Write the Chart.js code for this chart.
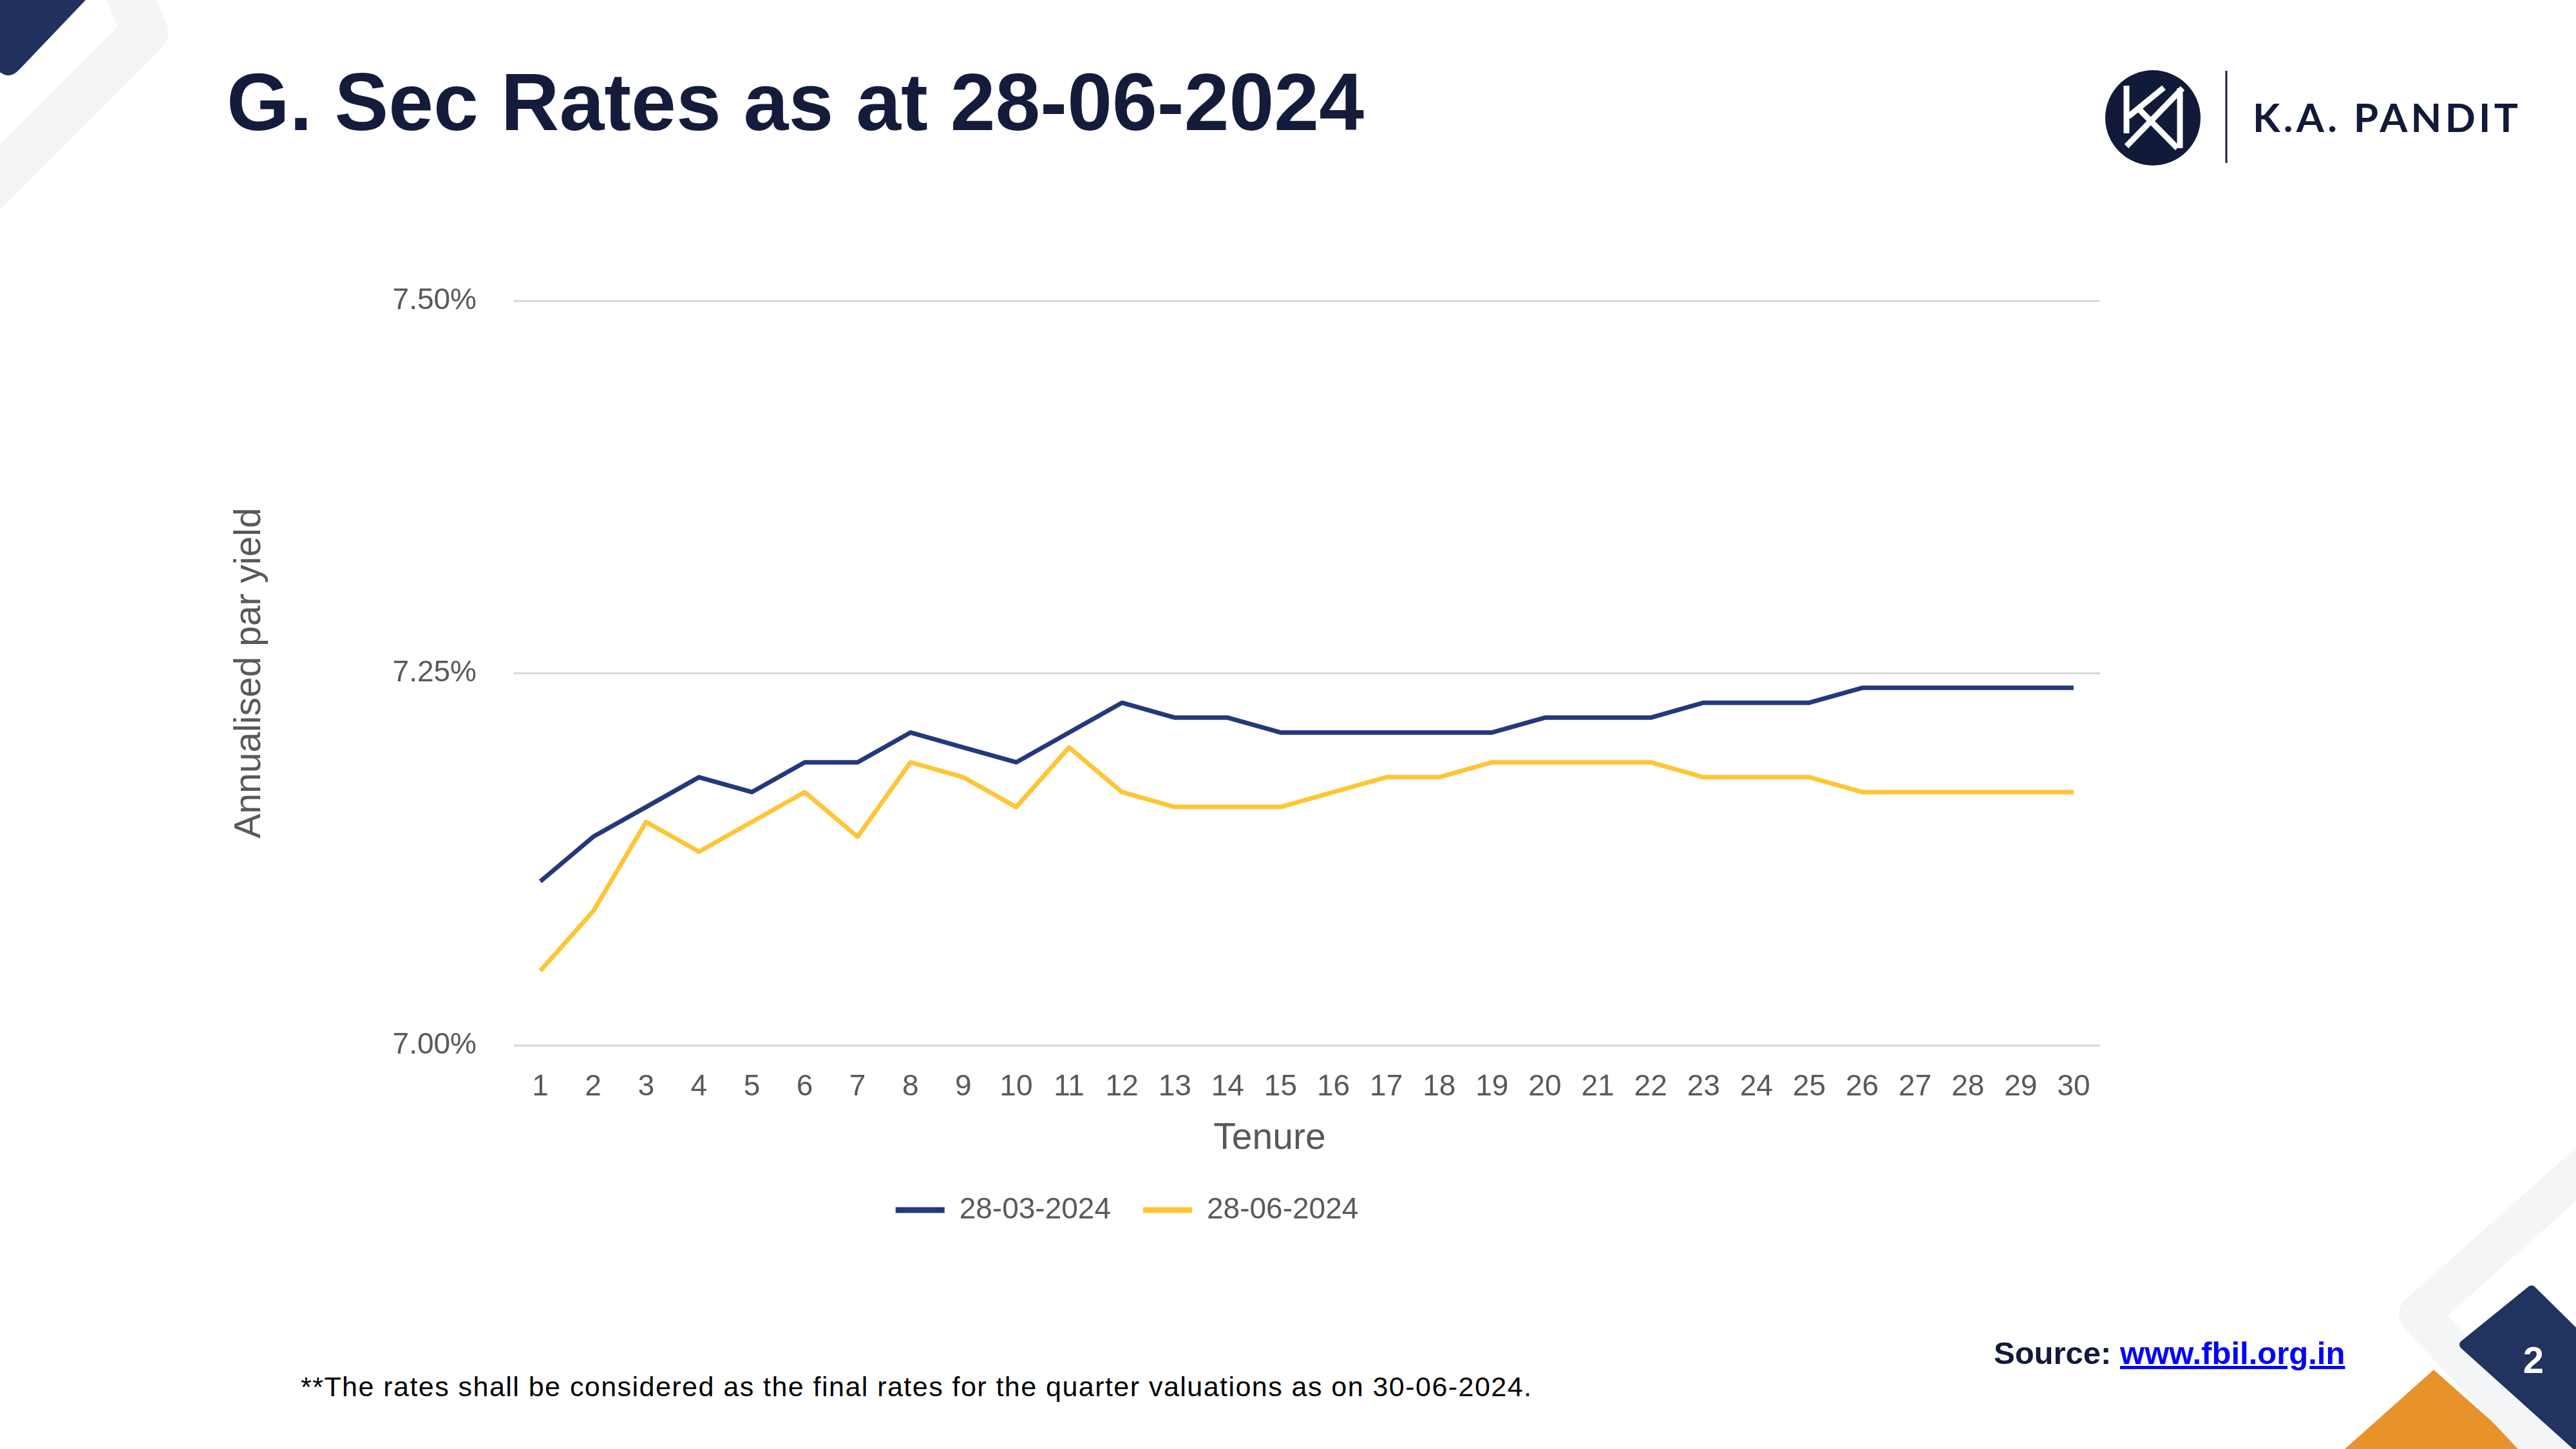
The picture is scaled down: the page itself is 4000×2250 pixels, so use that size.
<!DOCTYPE html>
<html>
<head>
<meta charset="utf-8">
<script src="https://cdn.jsdelivr.net/npm/chart.js@4.4.1/dist/chart.umd.min.js"></script>
<style>
  html, body { margin: 0; padding: 0; background: #ffffff; }
  body { width: 4000px; height: 2250px; position: relative; overflow: hidden; }
  #deco { position: absolute; left: 0; top: 0; z-index: 0; }
  #chart { position: absolute; left: 0; top: 0; z-index: 1; }
</style>
</head>
<body>
<svg id="deco" width="4000" height="2250" xmlns="http://www.w3.org/2000/svg">
  <!-- top-left corner decoration -->
  <path d="M 180 -60 L 225 50 L -60 335" fill="none" stroke="#f4f5f7" stroke-width="72" stroke-linejoin="round"/>
  <path d="M -20 0 L 133 0 L 30 108 Q 15 124 0 112 L -20 100 Z" fill="#21325e"/>

  <!-- title -->
  <text x="352" y="202" font-family="Liberation Sans, Arial, sans-serif" font-weight="700" font-size="126" fill="#141c3c" textLength="1766" lengthAdjust="spacingAndGlyphs">G. Sec Rates as at 28-06-2024</text>

  <!-- logo -->
  <defs>
    <clipPath id="logoClip"><circle cx="3343" cy="183" r="72"/></clipPath>
  </defs>
  <circle cx="3343" cy="183" r="74" fill="#121a3a"/>
  <g clip-path="url(#logoClip)" stroke="#ffffff" stroke-width="9" fill="none" stroke-linecap="butt">
    <line x1="3302" y1="133" x2="3302" y2="207"/>
    <line x1="3360" y1="136" x2="3305" y2="181"/>
    <line x1="3389" y1="137" x2="3302" y2="227"/>
    <line x1="3322" y1="170" x2="3381" y2="230"/>
    <line x1="3385" y1="137" x2="3385" y2="230"/>
  </g>
  <line x1="3457" y1="110" x2="3457" y2="253" stroke="#121a3a" stroke-width="3"/>
  <text x="3498" y="205" font-family="Lato, Inter, sans-serif" font-weight="700" font-size="62" fill="#121a3a" textLength="412" lengthAdjust="spacing">K.A. PANDIT</text>

  <!-- footnote -->
  <text x="467" y="2168" font-family="Liberation Sans, Arial, sans-serif" font-size="43" fill="#000000" textLength="1911" lengthAdjust="spacing">**The rates shall be considered as the final rates for the quarter valuations as on 30-06-2024.</text>

  <!-- source -->
  <text x="3096" y="2118" font-family="Liberation Sans, Arial, sans-serif" font-weight="700" font-size="49" fill="#121a3a">Source: <tspan fill="#0000ff" text-decoration="underline">www.fbil.org.in</tspan></text>

  <!-- bottom-right decoration -->
  <polygon points="3641,2250 3779,2127 3918,2250" fill="#e8922a"/>
  <path d="M 4060 1770 L 3756 2041 L 3990 2290" fill="none" stroke="#f4f5f7" stroke-width="62" stroke-linejoin="round"/>
  <path d="M 3931 2003 L 3826 2088 L 4006 2250 L 4100 2170 Z" fill="#21335f" stroke="#21335f" stroke-width="14" stroke-linejoin="round"/>
  <text x="3934" y="2132" text-anchor="middle" font-family="Liberation Sans, Arial, sans-serif" font-weight="700" font-size="58" fill="#ffffff">2</text>
</svg>

<canvas id="chart" width="3500" height="2250"></canvas>

<script>
// ---- data ----
const tenures = ['1','2','3','4','5','6','7','8','9','10','11','12','13','14','15','16','17','18','19','20','21','22','23','24','25','26','27','28','29','30'];
const seriesNames = ['28-03-2024', '28-06-2024'];
const yieldsMar = [7.11, 7.14, 7.16, 7.18, 7.17, 7.19, 7.19, 7.21, 7.20, 7.19, 7.21, 7.23, 7.22, 7.22, 7.21, 7.21, 7.21, 7.21, 7.21, 7.22, 7.22, 7.22, 7.23, 7.23, 7.23, 7.24, 7.24, 7.24, 7.24, 7.24];
const yieldsJun = [7.05, 7.09, 7.15, 7.13, 7.15, 7.17, 7.14, 7.19, 7.18, 7.16, 7.20, 7.17, 7.16, 7.16, 7.16, 7.17, 7.18, 7.18, 7.19, 7.19, 7.19, 7.19, 7.18, 7.18, 7.18, 7.17, 7.17, 7.17, 7.17, 7.17];
const yMin = 7.00, yMax = 7.50, yStep = 0.25;
const xTitle = 'Tenure';
const yTitle = 'Annualised par yield';

// ---- styles ----
const navy = '#24397b';
const gold = '#ffc535';
const axisText = '#595959';
const gridColor = '#d9d9d9';
const fontFamily = '"Liberation Sans", Arial, sans-serif';

// x-axis title, drawn slightly left of the plot centre as in the original
const xTitlePlugin = {
  id: 'xTitlePlugin',
  afterDraw(chart) {
    const c = chart.ctx;
    const area = chart.chartArea;
    c.save();
    c.font = '57px ' + fontFamily;
    c.fillStyle = axisText;
    c.textAlign = 'center';
    c.textBaseline = 'middle';
    c.fillText(xTitle, (area.left + area.right) / 2 - 58, area.bottom + 145);
    c.restore();
  }
};

const ctx = document.getElementById('chart').getContext('2d');
new Chart(ctx, {
  type: 'line',
  data: {
    labels: tenures,
    datasets: [
      { label: seriesNames[0], data: yieldsMar, borderColor: navy, backgroundColor: navy, borderWidth: 7, pointRadius: 0, tension: 0, fill: false, borderJoinStyle: 'round' },
      { label: seriesNames[1], data: yieldsJun, borderColor: gold, backgroundColor: gold, borderWidth: 7, pointRadius: 0, tension: 0, fill: false, borderJoinStyle: 'round' }
    ]
  },
  plugins: [xTitlePlugin],
  options: {
    responsive: false,
    animation: false,
    devicePixelRatio: 1,
    layout: { padding: { top: 467, bottom: 338, left: 0, right: 0 } },
    plugins: {
      tooltip: { enabled: false },
      legend: {
        display: true,
        position: 'bottom',
        align: 'center',
        labels: {
          color: axisText,
          font: { family: fontFamily, size: 46 },
          boxWidth: 76,
          boxHeight: 9,
          padding: 50,
          generateLabels: (chart) => {
            const items = Chart.defaults.plugins.legend.labels.generateLabels(chart);
            items.forEach(it => { it.lineWidth = 0; it.fillStyle = it.strokeStyle; });
            return items;
          }
        }
      }
    },
    scales: {
      x: {
        type: 'category',
        offset: true,
        grid: { display: false, drawTicks: false },
        border: { display: false },
        ticks: { color: axisText, font: { family: fontFamily, size: 46 }, padding: 38, maxRotation: 0, autoSkip: false },
        title: { display: false, text: xTitle },
        afterFit: (s) => { s.height = 183; }
      },
      y: {
        type: 'linear',
        position: 'left',
        min: yMin,
        max: yMax,
        grid: { color: gridColor, lineWidth: 3, drawTicks: false },
        border: { display: false },
        ticks: {
          stepSize: yStep,
          color: axisText,
          font: { family: fontFamily, size: 46 },
          padding: 58,
          callback: (v) => Number(v).toFixed(2) + '%'
        },
        title: { display: true, text: yTitle, color: axisText, font: { family: fontFamily, size: 57 }, padding: { top: 354, bottom: 0 } },
        afterFit: (s) => { s.width = 798; }
      },
      yRight: {
        type: 'linear',
        position: 'right',
        display: true,
        grid: { display: false, drawTicks: false },
        border: { display: false },
        ticks: { display: false },
        title: { display: false },
        afterFit: (s) => { s.width = 239; }
      }
    }
  }
});
</script>
</body>
</html>
